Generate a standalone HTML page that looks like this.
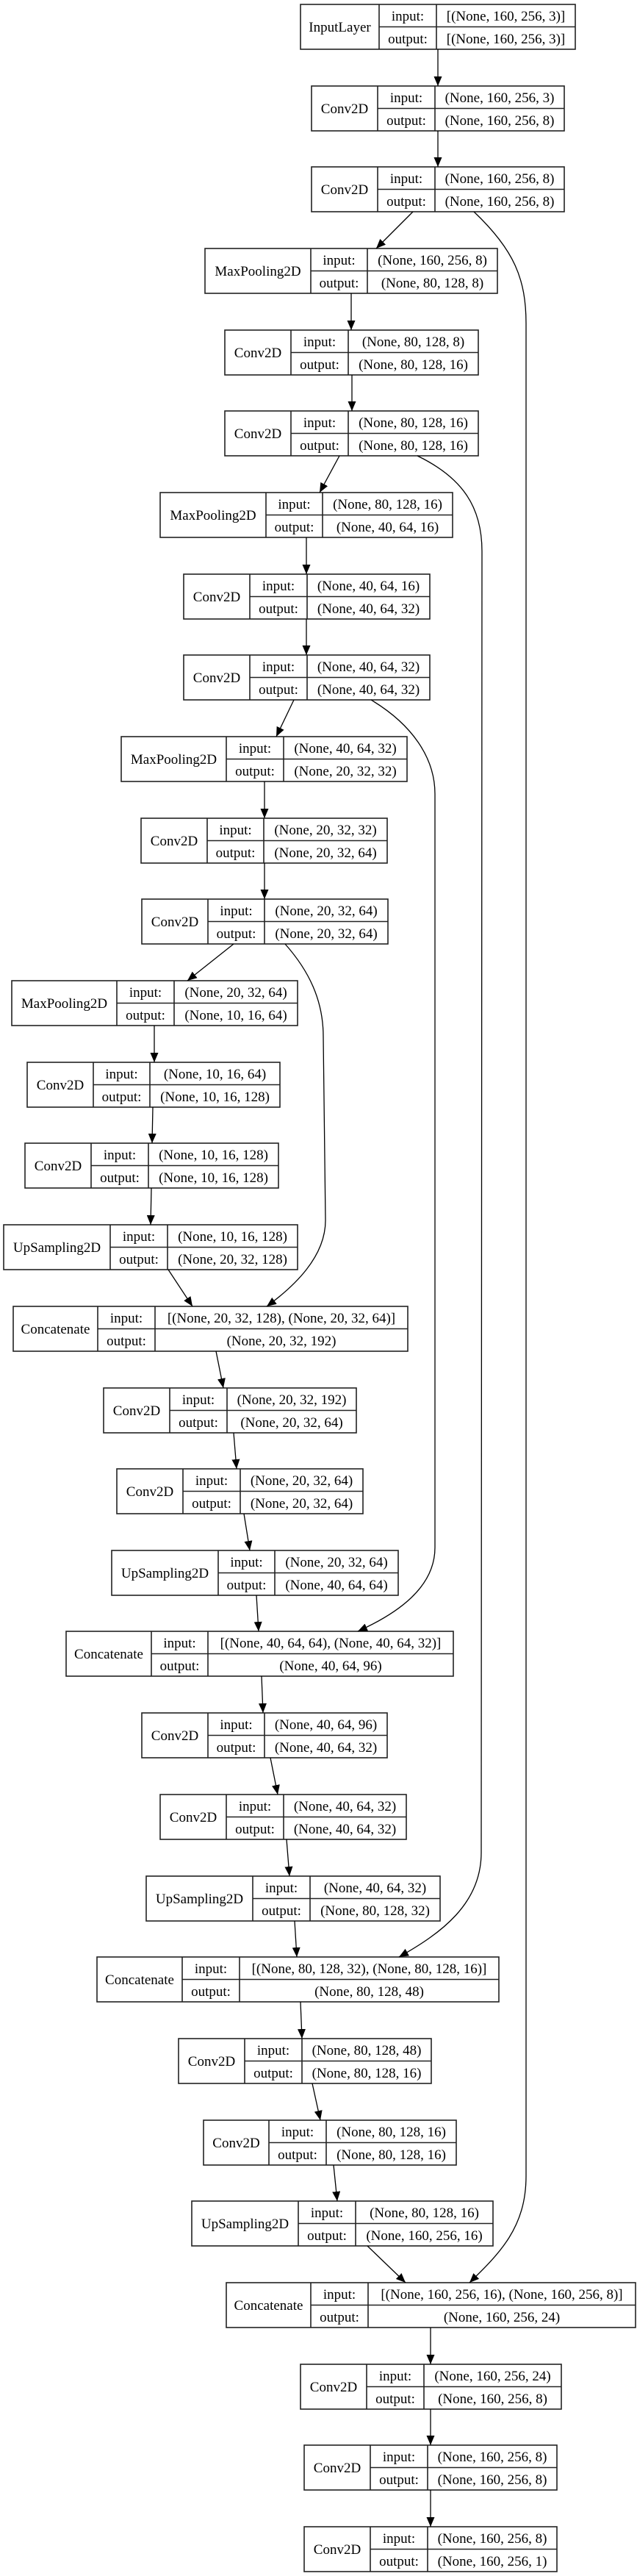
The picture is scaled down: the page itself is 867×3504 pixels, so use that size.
<!DOCTYPE html>
<html><head><meta charset="utf-8"><style>
html,body{margin:0;padding:0;background:#fff;}
svg{display:block;}
text{font-family:"Liberation Serif","Times New Roman",serif;font-size:19px;fill:#000;text-anchor:middle;}
.b rect{fill:#fff;stroke:#222;stroke-width:1.6;}
.b line{stroke:#222;stroke-width:1.6;}
.e{fill:none;stroke:#000;stroke-width:1.3;marker-end:url(#ah);}
</style></head><body>
<svg width="867" height="3504" viewBox="0 0 867 3504" xmlns="http://www.w3.org/2000/svg">
<defs><marker id="ah" markerUnits="userSpaceOnUse" markerWidth="13" markerHeight="11" refX="13" refY="5.5" orient="auto"><path d="M0,0 L13,5.5 L0,11 z" fill="#000"/></marker></defs>

<g class="b" transform="translate(0,6)"><rect x="409" y="0" width="374" height="61"/><line x1="516" y1="0" x2="516" y2="61"/><line x1="594" y1="0" x2="594" y2="61"/><line x1="516" y1="30.5" x2="783" y2="30.5"/><text x="462.5" y="37">InputLayer</text><text x="555" y="22">input:</text><text x="555" y="53">output:</text><text x="688.5" y="22">[(None, 160, 256, 3)]</text><text x="688.5" y="53">[(None, 160, 256, 3)]</text></g>
<g class="b" transform="translate(0,117)"><rect x="424" y="0" width="344" height="61"/><line x1="514" y1="0" x2="514" y2="61"/><line x1="592" y1="0" x2="592" y2="61"/><line x1="514" y1="30.5" x2="768" y2="30.5"/><text x="469" y="37">Conv2D</text><text x="553" y="22">input:</text><text x="553" y="53">output:</text><text x="680" y="22">(None, 160, 256, 3)</text><text x="680" y="53">(None, 160, 256, 8)</text></g>
<g class="b" transform="translate(0,227)"><rect x="424" y="0" width="344" height="61"/><line x1="514" y1="0" x2="514" y2="61"/><line x1="592" y1="0" x2="592" y2="61"/><line x1="514" y1="30.5" x2="768" y2="30.5"/><text x="469" y="37">Conv2D</text><text x="553" y="22">input:</text><text x="553" y="53">output:</text><text x="680" y="22">(None, 160, 256, 8)</text><text x="680" y="53">(None, 160, 256, 8)</text></g>
<g class="b" transform="translate(0,338)"><rect x="279" y="0" width="398" height="61"/><line x1="423" y1="0" x2="423" y2="61"/><line x1="500" y1="0" x2="500" y2="61"/><line x1="423" y1="30.5" x2="677" y2="30.5"/><text x="351" y="37">MaxPooling2D</text><text x="461.5" y="22">input:</text><text x="461.5" y="53">output:</text><text x="588.5" y="22">(None, 160, 256, 8)</text><text x="588.5" y="53">(None, 80, 128, 8)</text></g>
<g class="b" transform="translate(0,449)"><rect x="306" y="0" width="345" height="61"/><line x1="396" y1="0" x2="396" y2="61"/><line x1="474" y1="0" x2="474" y2="61"/><line x1="396" y1="30.5" x2="651" y2="30.5"/><text x="351" y="37">Conv2D</text><text x="435" y="22">input:</text><text x="435" y="53">output:</text><text x="562.5" y="22">(None, 80, 128, 8)</text><text x="562.5" y="53">(None, 80, 128, 16)</text></g>
<g class="b" transform="translate(0,559)"><rect x="306" y="0" width="345" height="61"/><line x1="396" y1="0" x2="396" y2="61"/><line x1="474" y1="0" x2="474" y2="61"/><line x1="396" y1="30.5" x2="651" y2="30.5"/><text x="351" y="37">Conv2D</text><text x="435" y="22">input:</text><text x="435" y="53">output:</text><text x="562.5" y="22">(None, 80, 128, 16)</text><text x="562.5" y="53">(None, 80, 128, 16)</text></g>
<g class="b" transform="translate(0,670)"><rect x="218" y="0" width="398" height="61"/><line x1="362" y1="0" x2="362" y2="61"/><line x1="439" y1="0" x2="439" y2="61"/><line x1="362" y1="30.5" x2="616" y2="30.5"/><text x="290" y="37">MaxPooling2D</text><text x="400.5" y="22">input:</text><text x="400.5" y="53">output:</text><text x="527.5" y="22">(None, 80, 128, 16)</text><text x="527.5" y="53">(None, 40, 64, 16)</text></g>
<g class="b" transform="translate(0,781)"><rect x="250" y="0" width="335" height="61"/><line x1="340" y1="0" x2="340" y2="61"/><line x1="418" y1="0" x2="418" y2="61"/><line x1="340" y1="30.5" x2="585" y2="30.5"/><text x="295" y="37">Conv2D</text><text x="379" y="22">input:</text><text x="379" y="53">output:</text><text x="501.5" y="22">(None, 40, 64, 16)</text><text x="501.5" y="53">(None, 40, 64, 32)</text></g>
<g class="b" transform="translate(0,891)"><rect x="250" y="0" width="335" height="61"/><line x1="340" y1="0" x2="340" y2="61"/><line x1="418" y1="0" x2="418" y2="61"/><line x1="340" y1="30.5" x2="585" y2="30.5"/><text x="295" y="37">Conv2D</text><text x="379" y="22">input:</text><text x="379" y="53">output:</text><text x="501.5" y="22">(None, 40, 64, 32)</text><text x="501.5" y="53">(None, 40, 64, 32)</text></g>
<g class="b" transform="translate(0,1002)"><rect x="165" y="0" width="389" height="61"/><line x1="308" y1="0" x2="308" y2="61"/><line x1="386" y1="0" x2="386" y2="61"/><line x1="308" y1="30.5" x2="554" y2="30.5"/><text x="236.5" y="37">MaxPooling2D</text><text x="347" y="22">input:</text><text x="347" y="53">output:</text><text x="470" y="22">(None, 40, 64, 32)</text><text x="470" y="53">(None, 20, 32, 32)</text></g>
<g class="b" transform="translate(0,1113)"><rect x="192" y="0" width="335" height="61"/><line x1="282" y1="0" x2="282" y2="61"/><line x1="359" y1="0" x2="359" y2="61"/><line x1="282" y1="30.5" x2="527" y2="30.5"/><text x="237" y="37">Conv2D</text><text x="320.5" y="22">input:</text><text x="320.5" y="53">output:</text><text x="443" y="22">(None, 20, 32, 32)</text><text x="443" y="53">(None, 20, 32, 64)</text></g>
<g class="b" transform="translate(0,1223)"><rect x="193" y="0" width="335" height="61"/><line x1="283" y1="0" x2="283" y2="61"/><line x1="360" y1="0" x2="360" y2="61"/><line x1="283" y1="30.5" x2="528" y2="30.5"/><text x="238" y="37">Conv2D</text><text x="321.5" y="22">input:</text><text x="321.5" y="53">output:</text><text x="444" y="22">(None, 20, 32, 64)</text><text x="444" y="53">(None, 20, 32, 64)</text></g>
<g class="b" transform="translate(0,1334)"><rect x="16" y="0" width="389" height="61"/><line x1="159" y1="0" x2="159" y2="61"/><line x1="237" y1="0" x2="237" y2="61"/><line x1="159" y1="30.5" x2="405" y2="30.5"/><text x="87.5" y="37">MaxPooling2D</text><text x="198" y="22">input:</text><text x="198" y="53">output:</text><text x="321" y="22">(None, 20, 32, 64)</text><text x="321" y="53">(None, 10, 16, 64)</text></g>
<g class="b" transform="translate(0,1445)"><rect x="37" y="0" width="344" height="61"/><line x1="127" y1="0" x2="127" y2="61"/><line x1="204" y1="0" x2="204" y2="61"/><line x1="127" y1="30.5" x2="381" y2="30.5"/><text x="82" y="37">Conv2D</text><text x="165.5" y="22">input:</text><text x="165.5" y="53">output:</text><text x="292.5" y="22">(None, 10, 16, 64)</text><text x="292.5" y="53">(None, 10, 16, 128)</text></g>
<g class="b" transform="translate(0,1555)"><rect x="34" y="0" width="345" height="61"/><line x1="124" y1="0" x2="124" y2="61"/><line x1="202" y1="0" x2="202" y2="61"/><line x1="124" y1="30.5" x2="379" y2="30.5"/><text x="79" y="37">Conv2D</text><text x="163" y="22">input:</text><text x="163" y="53">output:</text><text x="290.5" y="22">(None, 10, 16, 128)</text><text x="290.5" y="53">(None, 10, 16, 128)</text></g>
<g class="b" transform="translate(0,1666)"><rect x="5" y="0" width="400" height="61"/><line x1="150" y1="0" x2="150" y2="61"/><line x1="228" y1="0" x2="228" y2="61"/><line x1="150" y1="30.5" x2="405" y2="30.5"/><text x="77.5" y="37">UpSampling2D</text><text x="189" y="22">input:</text><text x="189" y="53">output:</text><text x="316.5" y="22">(None, 10, 16, 128)</text><text x="316.5" y="53">(None, 20, 32, 128)</text></g>
<g class="b" transform="translate(0,1777)"><rect x="18" y="0" width="537" height="61"/><line x1="133" y1="0" x2="133" y2="61"/><line x1="211" y1="0" x2="211" y2="61"/><line x1="133" y1="30.5" x2="555" y2="30.5"/><text x="75.5" y="37">Concatenate</text><text x="172" y="22">input:</text><text x="172" y="53">output:</text><text x="383" y="22">[(None, 20, 32, 128), (None, 20, 32, 64)]</text><text x="383" y="53">(None, 20, 32, 192)</text></g>
<g class="b" transform="translate(0,1888)"><rect x="141" y="0" width="344" height="61"/><line x1="231" y1="0" x2="231" y2="61"/><line x1="309" y1="0" x2="309" y2="61"/><line x1="231" y1="30.5" x2="485" y2="30.5"/><text x="186" y="37">Conv2D</text><text x="270" y="22">input:</text><text x="270" y="53">output:</text><text x="397" y="22">(None, 20, 32, 192)</text><text x="397" y="53">(None, 20, 32, 64)</text></g>
<g class="b" transform="translate(0,1998)"><rect x="159" y="0" width="335" height="61"/><line x1="249" y1="0" x2="249" y2="61"/><line x1="327" y1="0" x2="327" y2="61"/><line x1="249" y1="30.5" x2="494" y2="30.5"/><text x="204" y="37">Conv2D</text><text x="288" y="22">input:</text><text x="288" y="53">output:</text><text x="410.5" y="22">(None, 20, 32, 64)</text><text x="410.5" y="53">(None, 20, 32, 64)</text></g>
<g class="b" transform="translate(0,2109)"><rect x="152" y="0" width="390" height="61"/><line x1="297" y1="0" x2="297" y2="61"/><line x1="374" y1="0" x2="374" y2="61"/><line x1="297" y1="30.5" x2="542" y2="30.5"/><text x="224.5" y="37">UpSampling2D</text><text x="335.5" y="22">input:</text><text x="335.5" y="53">output:</text><text x="458" y="22">(None, 20, 32, 64)</text><text x="458" y="53">(None, 40, 64, 64)</text></g>
<g class="b" transform="translate(0,2219)"><rect x="90" y="0" width="527" height="61"/><line x1="206" y1="0" x2="206" y2="61"/><line x1="283" y1="0" x2="283" y2="61"/><line x1="206" y1="30.5" x2="617" y2="30.5"/><text x="148" y="37">Concatenate</text><text x="244.5" y="22">input:</text><text x="244.5" y="53">output:</text><text x="450" y="22">[(None, 40, 64, 64), (None, 40, 64, 32)]</text><text x="450" y="53">(None, 40, 64, 96)</text></g>
<g class="b" transform="translate(0,2330)"><rect x="193" y="0" width="334" height="61"/><line x1="283" y1="0" x2="283" y2="61"/><line x1="360" y1="0" x2="360" y2="61"/><line x1="283" y1="30.5" x2="527" y2="30.5"/><text x="238" y="37">Conv2D</text><text x="321.5" y="22">input:</text><text x="321.5" y="53">output:</text><text x="443.5" y="22">(None, 40, 64, 96)</text><text x="443.5" y="53">(None, 40, 64, 32)</text></g>
<g class="b" transform="translate(0,2441)"><rect x="218" y="0" width="335" height="61"/><line x1="308" y1="0" x2="308" y2="61"/><line x1="386" y1="0" x2="386" y2="61"/><line x1="308" y1="30.5" x2="553" y2="30.5"/><text x="263" y="37">Conv2D</text><text x="347" y="22">input:</text><text x="347" y="53">output:</text><text x="469.5" y="22">(None, 40, 64, 32)</text><text x="469.5" y="53">(None, 40, 64, 32)</text></g>
<g class="b" transform="translate(0,2552)"><rect x="199" y="0" width="400" height="61"/><line x1="344" y1="0" x2="344" y2="61"/><line x1="422" y1="0" x2="422" y2="61"/><line x1="344" y1="30.5" x2="599" y2="30.5"/><text x="271.5" y="37">UpSampling2D</text><text x="383" y="22">input:</text><text x="383" y="53">output:</text><text x="510.5" y="22">(None, 40, 64, 32)</text><text x="510.5" y="53">(None, 80, 128, 32)</text></g>
<g class="b" transform="translate(0,2662)"><rect x="132" y="0" width="547" height="61"/><line x1="248" y1="0" x2="248" y2="61"/><line x1="326" y1="0" x2="326" y2="61"/><line x1="248" y1="30.5" x2="679" y2="30.5"/><text x="190" y="37">Concatenate</text><text x="287" y="22">input:</text><text x="287" y="53">output:</text><text x="502.5" y="22">[(None, 80, 128, 32), (None, 80, 128, 16)]</text><text x="502.5" y="53">(None, 80, 128, 48)</text></g>
<g class="b" transform="translate(0,2773)"><rect x="243" y="0" width="344" height="61"/><line x1="333" y1="0" x2="333" y2="61"/><line x1="411" y1="0" x2="411" y2="61"/><line x1="333" y1="30.5" x2="587" y2="30.5"/><text x="288" y="37">Conv2D</text><text x="372" y="22">input:</text><text x="372" y="53">output:</text><text x="499" y="22">(None, 80, 128, 48)</text><text x="499" y="53">(None, 80, 128, 16)</text></g>
<g class="b" transform="translate(0,2884)"><rect x="277" y="0" width="344" height="61"/><line x1="366" y1="0" x2="366" y2="61"/><line x1="444" y1="0" x2="444" y2="61"/><line x1="366" y1="30.5" x2="621" y2="30.5"/><text x="321.5" y="37">Conv2D</text><text x="405" y="22">input:</text><text x="405" y="53">output:</text><text x="532.5" y="22">(None, 80, 128, 16)</text><text x="532.5" y="53">(None, 80, 128, 16)</text></g>
<g class="b" transform="translate(0,2994)"><rect x="261" y="0" width="410" height="61"/><line x1="406" y1="0" x2="406" y2="61"/><line x1="484" y1="0" x2="484" y2="61"/><line x1="406" y1="30.5" x2="671" y2="30.5"/><text x="333.5" y="37">UpSampling2D</text><text x="445" y="22">input:</text><text x="445" y="53">output:</text><text x="577.5" y="22">(None, 80, 128, 16)</text><text x="577.5" y="53">(None, 160, 256, 16)</text></g>
<g class="b" transform="translate(0,3105)"><rect x="308" y="0" width="557" height="61"/><line x1="423" y1="0" x2="423" y2="61"/><line x1="501" y1="0" x2="501" y2="61"/><line x1="423" y1="30.5" x2="865" y2="30.5"/><text x="365.5" y="37">Concatenate</text><text x="462" y="22">input:</text><text x="462" y="53">output:</text><text x="683" y="22">[(None, 160, 256, 16), (None, 160, 256, 8)]</text><text x="683" y="53">(None, 160, 256, 24)</text></g>
<g class="b" transform="translate(0,3216)"><rect x="409" y="0" width="355" height="61"/><line x1="499" y1="0" x2="499" y2="61"/><line x1="577" y1="0" x2="577" y2="61"/><line x1="499" y1="30.5" x2="764" y2="30.5"/><text x="454" y="37">Conv2D</text><text x="538" y="22">input:</text><text x="538" y="53">output:</text><text x="670.5" y="22">(None, 160, 256, 24)</text><text x="670.5" y="53">(None, 160, 256, 8)</text></g>
<g class="b" transform="translate(0,3326)"><rect x="414" y="0" width="344" height="61"/><line x1="504" y1="0" x2="504" y2="61"/><line x1="582" y1="0" x2="582" y2="61"/><line x1="504" y1="30.5" x2="758" y2="30.5"/><text x="459" y="37">Conv2D</text><text x="543" y="22">input:</text><text x="543" y="53">output:</text><text x="670" y="22">(None, 160, 256, 8)</text><text x="670" y="53">(None, 160, 256, 8)</text></g>
<g class="b" transform="translate(0,3437)"><rect x="414" y="0" width="344" height="61"/><line x1="504" y1="0" x2="504" y2="61"/><line x1="582" y1="0" x2="582" y2="61"/><line x1="504" y1="30.5" x2="758" y2="30.5"/><text x="459" y="37">Conv2D</text><text x="543" y="22">input:</text><text x="543" y="53">output:</text><text x="670" y="22">(None, 160, 256, 8)</text><text x="670" y="53">(None, 160, 256, 1)</text></g>

<path class="e" d="M596,67 L596,117"/>
<path class="e" d="M596,178 L596,227"/>
<path class="e" d="M562,288 L512,338"/>
<path class="e" d="M478,399 L478,449"/>
<path class="e" d="M479,510 L479,559"/>
<path class="e" d="M462,620 L435,670"/>
<path class="e" d="M417,731 L417,781"/>
<path class="e" d="M417,842 L417,891"/>
<path class="e" d="M400,952 L376,1002"/>
<path class="e" d="M360,1063 L360,1113"/>
<path class="e" d="M360,1174 L360,1223"/>
<path class="e" d="M318,1284 L255,1334"/>
<path class="e" d="M210,1395 L210,1445"/>
<path class="e" d="M208,1506 L207,1555"/>
<path class="e" d="M206,1616 L205,1666"/>
<path class="e" d="M229,1727 L262,1777"/>
<path class="e" d="M294,1838 L304,1888"/>
<path class="e" d="M318,1949 L322,1998"/>
<path class="e" d="M332,2059 L340,2109"/>
<path class="e" d="M349,2170 L352,2219"/>
<path class="e" d="M356,2280 L358,2330"/>
<path class="e" d="M368,2391 L378,2441"/>
<path class="e" d="M390,2502 L394,2552"/>
<path class="e" d="M401,2613 L404,2662"/>
<path class="e" d="M409,2723 L411,2773"/>
<path class="e" d="M425,2834 L436,2884"/>
<path class="e" d="M454,2945 L459,2994"/>
<path class="e" d="M500,3055 L552,3105"/>
<path class="e" d="M586,3166 L586,3216"/>
<path class="e" d="M586,3277 L586,3326"/>
<path class="e" d="M586,3387 L586,3437"/>

<path class="e" d="M645,288 C700,340 716,380 716,440 L716,2960 C716,3030 680,3065 639,3105"/>
<path class="e" d="M568,620 C630,650 656,690 656,750 L655,2520 C655,2590 600,2630 543,2662"/>
<path class="e" d="M505,952 C560,985 592,1030 592,1080 L592,2105 C592,2160 540,2195 487,2219"/>
<path class="e" d="M388,1284 C420,1320 440,1360 440,1410 L443,1660 C443,1710 400,1750 363,1777"/>
</svg>
</body></html>
